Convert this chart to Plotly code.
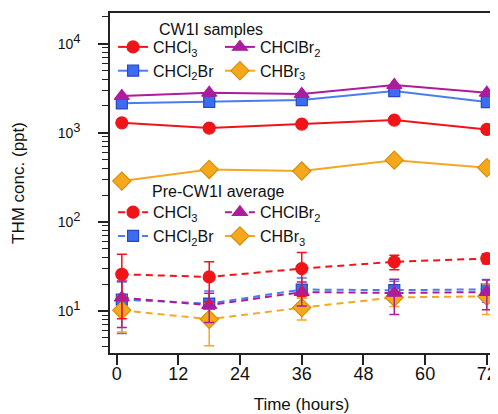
import plotly.graph_objects as go

# ---------------- data ----------------
times = [1, 18, 36, 54, 72]

# CW1I samples (ppt)
cw_chcl3 = [1295, 1130, 1253, 1390, 1092]
cw_chcl2br = [2140, 2228, 2330, 2944, 2213]
cw_chclbr2 = [2585, 2812, 2723, 3436, 2812]
cw_chbr3 = [287, 388, 372, 493, 405]

# Pre-CW1I average (ppt) and error bars
pre_chcl3 = [25.8, 24.1, 29.9, 35.6, 38.8]
pre_chcl3_err = [17.6, 11.5, 15.4, 6.5, 5.0]
pre_chcl2br = [13.4, 12.1, 17.4, 17.1, 17.5]
pre_chcl2br_err = [7.8, 4.7, 6.0, 4.5, 5.0]
pre_chclbr2 = [14.1, 11.6, 16.3, 15.9, 16.3]
pre_chclbr2_err = [7.6, 4.2, 4.9, 6.8, 6.0]
pre_chbr3 = [10.2, 8.07, 10.9, 14.2, 14.6]
pre_chbr3_err = [4.4, 4.0, 3.0, 3.0, 5.5]

x_ticks = [0, 12, 24, 36, 48, 60, 72]
y_tickvals = [10, 100, 1000, 10000]
y_exponents = ["1", "2", "3", "4"]
y_ticktext = ['10<sup><span style="font-size:13px">%s</span></sup>' % e for e in y_exponents]
y_minor = [m * 10 ** e for e in range(0, 5) for m in range(2, 10) if 3.4 <= m * 10 ** e <= 22000]

names = {
    "chcl3": "CHCl<sub>3</sub>",
    "chcl2br": "CHCl<sub>2</sub>Br",
    "chclbr2": "CHClBr<sub>2</sub>",
    "chbr3": "CHBr<sub>3</sub>",
}

# ---------------- styles ----------------
RED = "#F01418"
PURPLE = "#AC1C9C"
BLUE_F, BLUE_L = "#3E6CF0", "#2548C8"
ORANGE_F, ORANGE_L = "#F5A81C", "#D98E0A"

style = {
    "chcl3": dict(symbol="circle", size=12, color=RED, edge=RED, line=RED),
    "chcl2br": dict(symbol="square", size=11, color=BLUE_F, edge=BLUE_L, line="#4A7DF0"),
    "chclbr2": dict(symbol="triangle-up", size=13, color=PURPLE, edge=PURPLE, line=PURPLE),
    "chbr3": dict(symbol="diamond", size=14, color=ORANGE_F, edge=ORANGE_L, line="#F5A623"),
}

FONT = "Liberation Sans, Arial, sans-serif"
fig = go.Figure()


def add(key, y, legend, dashed, err=None):
    s = style[key]
    tr = go.Scatter(
        x=times, y=y, mode="lines+markers", name=names[key], legend=legend,
        line=dict(color=s["line"], width=2, dash="7px,5px" if dashed else "solid"),
        marker=dict(symbol=s["symbol"], size=s["size"], color=s["color"],
                    line=dict(color=s["edge"], width=1.2)),
    )
    if err is not None:
        tr.error_y = dict(type="data", array=err, visible=True, color=s["line"],
                          thickness=1.5, width=5)
    fig.add_trace(tr)


# lower (pre) group
add("chcl2br", pre_chcl2br, "legend3", True, pre_chcl2br_err)
add("chbr3", pre_chbr3, "legend4", True, pre_chbr3_err)
add("chclbr2", pre_chclbr2, "legend4", True, pre_chclbr2_err)
add("chcl3", pre_chcl3, "legend3", True, pre_chcl3_err)
# upper (CW1I) group
add("chbr3", cw_chbr3, "legend2", False)
add("chcl3", cw_chcl3, "legend", False)
add("chcl2br", cw_chcl2br, "legend", False)
add("chclbr2", cw_chclbr2, "legend2", False)

rank = {"CHCl<sub>3</sub>": 1, "CHClBr<sub>2</sub>": 1, "CHCl<sub>2</sub>Br": 2, "CHBr<sub>3</sub>": 2}
for tr in fig.data:
    tr.legendrank = rank[tr.name]

leg_common = dict(font=dict(family=FONT, size=16, color="#111"), bgcolor="rgba(0,0,0,0)",
                  borderwidth=0, xanchor="left", yanchor="top", itemwidth=30,
                  traceorder="normal")

# The page body has an 8px margin, so the figure is 8px smaller than the window.
fig.update_layout(
    width=490, height=406,
    margin=dict(l=102, r=5, t=5, b=61, autoexpand=False),
    paper_bgcolor="white", plot_bgcolor="white",
    font=dict(family=FONT, color="#111"),
    showlegend=True,
    legend=dict(x=0.008, y=0.950, **leg_common),
    legend2=dict(x=0.287, y=0.950, **leg_common),
    legend3=dict(x=0.008, y=0.464, **leg_common),
    legend4=dict(x=0.287, y=0.464, **leg_common),
    xaxis=dict(
        range=[-1.3, 73.2], tickmode="array", tickvals=x_ticks,
        ticks="outside", ticklen=10, tickwidth=1.5, tickcolor="#222",
        showline=True, linecolor="#222", linewidth=1.5, mirror=True,
        showgrid=False, zeroline=False,
        tickfont=dict(family=FONT, size=18, color="#111"),
        ticklabelstandoff=-6,
        title=dict(text="Time (hours)", font=dict(family=FONT, size=17, color="#111"), standoff=15),
    ),
    yaxis=dict(
        type="log", range=[0.528, 4.345], tickmode="array",
        tickvals=y_tickvals, ticktext=y_ticktext,
        ticks="outside", ticklen=10, tickwidth=1.5, tickcolor="#222",
        minor=dict(tickmode="array", tickvals=y_minor, ticks="outside", ticklen=6,
                   tickwidth=1.2, tickcolor="#222", showgrid=False),
        showline=True, linecolor="#222", linewidth=1.5, mirror=True,
        showgrid=False, zeroline=False,
        tickfont=dict(family=FONT, size=14, color="#111"),
        ticklabelstandoff=15,
        title=dict(text="THM conc. (ppt)", font=dict(family=FONT, size=17, color="#111"), standoff=29),
    ),
    annotations=[
        dict(text="CW1I samples", x=0.1227, y=0.9529, xref="paper", yref="paper",
             xanchor="left", yanchor="middle", showarrow=False,
             font=dict(family=FONT, size=16, color="#111")),
        dict(text="Pre-CW1I average", x=0.1044, y=0.476, xref="paper", yref="paper",
             xanchor="left", yanchor="middle", showarrow=False,
             font=dict(family=FONT, size=16, color="#111")),
    ],
)

fig.write_html("out.html")
